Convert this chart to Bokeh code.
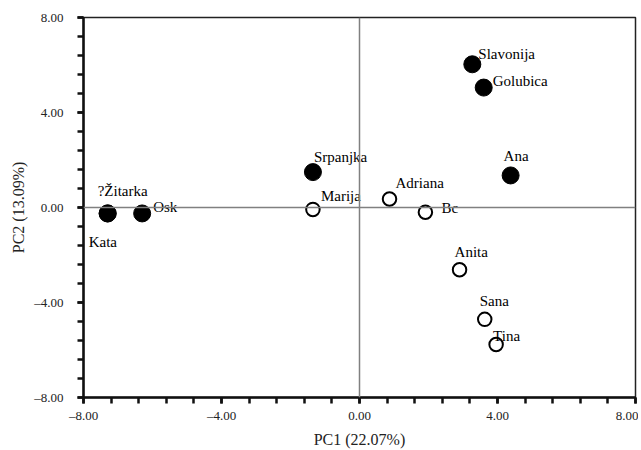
from bokeh.plotting import figure
from bokeh.models import ColumnDataSource, FixedTicker, Span
from bokeh.core.properties import value
from bokeh.embed import file_html
from bokeh.resources import INLINE

# --- data ---
filled_names = ["?Žitarka", "Kata", "Osk", "Srpanjka", "Slavonija", "Golubica", "Ana"]
filled_pc1 = [-7.3, -7.3, -6.3, -1.35, 3.27, 3.6, 4.38]
filled_pc2 = [-0.25, -0.25, -0.25, 1.49, 6.03, 5.05, 1.35]

open_names = ["Marija", "Adriana", "Bc", "Anita", "Sana", "Tina"]
open_pc1 = [-1.35, 0.87, 1.91, 2.9, 3.63, 3.96]
open_pc2 = [-0.08, 0.36, -0.2, -2.62, -4.71, -5.77]

# label offsets in screen pixels (dx right, dy down)
filled_dx = [-10, -19, 11, 1, 6, 9, -7]
filled_dy = [-22, 29, -6, -15, -10, -7, -19]
open_dx = [8, 6, 16, -5, -5, -3]
open_dy = [-13, -16, -4, -18, -18, -9]

major_ticks = [-8, -4, 0, 4, 8]
tick_labels = {-8: "–8.00", -4: "–4.00", 0: "0.00", 4: "4.00", 8: "8.00"}
minor_ticks = [-8 + 0.8 * i for i in range(21)]

x_label = "PC1 (22.07%)"
y_label = "PC2 (13.09%)"

FONT = "'Liberation Serif', 'Times New Roman', serif"

p = figure(width=638, height=450, x_range=(-8, 8), y_range=(-8, 8),
           output_backend="svg", toolbar_location=None,
           min_border_left=83, min_border_right=3, min_border_top=17, min_border_bottom=50)
p.grid.visible = False
p.outline_line_color = "#222222"
p.outline_line_width = 1.5
p.background_fill_color = "white"
p.border_fill_color = "white"

for sp in [Span(location=0, dimension="height"), Span(location=0, dimension="width")]:
    sp.line_color = "#808080"
    sp.line_width = 1.5
    p.add_layout(sp)

fsrc = ColumnDataSource(dict(x=filled_pc1, y=filled_pc2, name=filled_names, dx=filled_dx, dy=filled_dy))
osrc = ColumnDataSource(dict(x=open_pc1, y=open_pc2, name=open_names, dx=open_dx, dy=open_dy))

p.scatter("x", "y", source=fsrc, size=17, fill_color="black", line_color="black")
p.scatter("x", "y", source=osrc, size=13.5, fill_color="white", line_color="black", line_width=2)

for src in (fsrc, osrc):
    p.text("x", "y", text="name", source=src, x_offset="dx", y_offset="dy",
           text_font=value(FONT), text_font_size="15px", text_align="left",
           text_baseline="middle", text_color="black")

for ax in (p.xaxis[0], p.yaxis[0]):
    ax.ticker = FixedTicker(ticks=major_ticks, minor_ticks=minor_ticks)
    ax.major_label_overrides = tick_labels
    ax.axis_line_width = 2.5
    ax.axis_line_color = "#111111"
    ax.major_tick_line_width = 2.5
    ax.minor_tick_line_width = 2.5
    ax.major_tick_line_color = "#111111"
    ax.minor_tick_line_color = "#111111"
    ax.major_tick_out = 6
    ax.major_tick_in = 0
    ax.minor_tick_out = 6
    ax.minor_tick_in = 0
    ax.major_label_text_font = FONT
    ax.major_label_text_font_size = "13px"
    ax.major_label_text_color = "#222222"
    ax.axis_label_text_font = FONT
    ax.axis_label_text_font_size = "16px"
    ax.axis_label_text_font_style = "normal"
    ax.axis_label_text_color = "#222222"

p.xaxis[0].axis_label = x_label
p.yaxis[0].axis_label = y_label
p.xaxis[0].major_label_standoff = 4
p.yaxis[0].major_label_standoff = 14
p.xaxis[0].axis_label_standoff = 5
p.yaxis[0].axis_label_standoff = 4

open("out.html", "w").write(file_html(p, INLINE))
